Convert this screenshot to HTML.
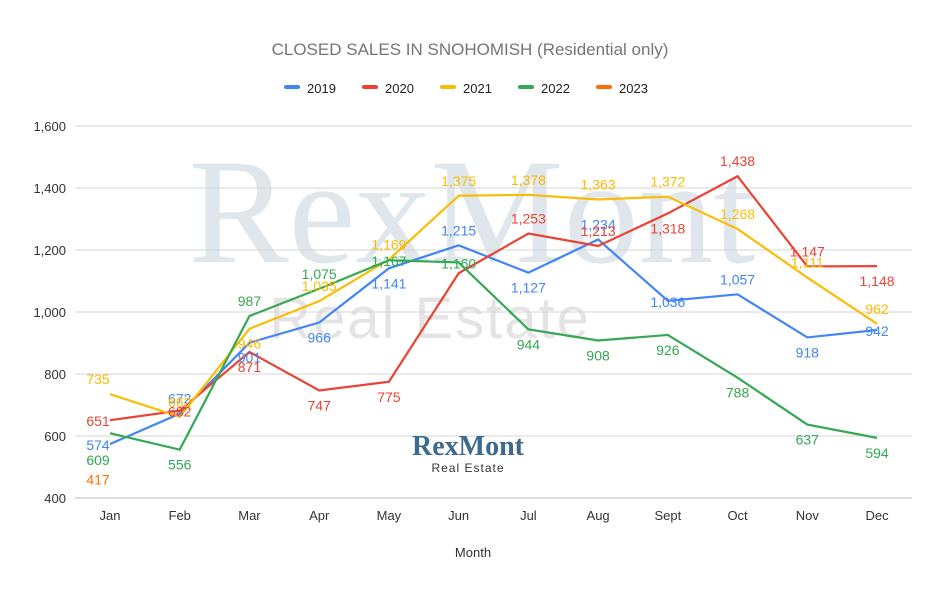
<!DOCTYPE html>
<html><head><meta charset="utf-8"><style>
body{margin:0;background:#fff;font-family:"Liberation Sans",Arial,sans-serif}
svg text{font-family:"Liberation Sans",Arial,sans-serif}
</style></head><body>
<svg id="c" width="940" height="600" xmlns="http://www.w3.org/2000/svg">
<rect width="940" height="600" fill="#fff"/>
<text x="470" y="55" text-anchor="middle" font-size="17" fill="#757575">CLOSED SALES IN SNOHOMISH  (Residential only)</text>
<text x="472" y="262" text-anchor="middle" font-size="150" fill="#dfe6ec" style="font-family:'Liberation Serif',serif">RexMont</text>
<text x="430" y="338" text-anchor="middle" font-size="58" fill="#e4e4e4" letter-spacing="2">Real Estate</text>
<g id="grid"></g><g id="lines"></g><g id="labels"></g>
<text x="468" y="455" text-anchor="middle" font-size="28" font-weight="bold" fill="#3f6a8f" style="font-family:'Liberation Serif',serif">RexMont</text>
<text x="468" y="472" text-anchor="middle" font-size="12" fill="#333" letter-spacing="1">Real Estate</text>
<text x="473" y="557" text-anchor="middle" font-size="13" fill="#333">Month</text>
<g id="legend"></g>
</svg>
<script>
const months=["Jan","Feb","Mar","Apr","May","Jun","Jul","Aug","Sept","Oct","Nov","Dec"];
const yTicks=[400,600,800,1000,1200,1400,1600];
const seriesNames=["2019","2020","2021","2022","2023"];
const s2019=[574,672,901,966,1141,1215,1127,1234,1036,1057,918,942];
const s2020=[651,682,871,747,775,1125,1253,1213,1318,1438,1147,1148];
const s2021=[735,662,946,1035,1169,1375,1378,1363,1372,1268,1111,962];
const s2022=[609,556,987,1075,1167,1160,944,908,926,788,637,594];
const s2023=[417];
const colors=["#4285f4","#ea4335","#fbbc04","#34a853","#ff6d01"];
const pos=[
"cabbbabacabc".split(""),
"ccbbbnaabaab".split(""),
"aabaaaaaaaaa".split(""),
"dbaaccbbbbbb".split(""),
"e".split("")];
const all=[s2019,s2020,s2021,s2022,s2023];
const NS="http://www.w3.org/2000/svg";
const X=i=>110+i*69.73, Y=v=>498-(v-400)*0.31;
function el(t,a,p){const e=document.createElementNS(NS,t);for(const k in a)e.setAttribute(k,a[k]);p.appendChild(e);return e;}
const grid=document.getElementById('grid');
yTicks.forEach(v=>{
 const l=el('line',{x1:75,x2:912,y1:Y(v),y2:Y(v),stroke:v===400?'#bbb':'#d6d6d6','stroke-width':1},grid);
 
 
 const t=el('text',{x:66,y:Y(v)+5,'text-anchor':'end','font-size':13,fill:'#333'},grid);t.textContent=v.toLocaleString('en-US');
 
 
});
months.forEach((m,i)=>{
 const t=el('text',{x:X(i),y:520,'text-anchor':'middle','font-size':13,fill:'#333'},grid);t.textContent=m;
 
 
});
const lines=document.getElementById('lines'),labels=document.getElementById('labels');
const dyMap={a:-10,b:20,c:6,d:32,e:-8};
all.forEach((s,k)=>{
 if(s.length>1){
  const p=el('polyline',{points:s.map((v,i)=>X(i)+','+Y(v)).join(' '),fill:'none',stroke:colors[k],'stroke-width':2.2},lines);
  
  
 }
 s.forEach((v,i)=>{
  const ps=pos[k][i]||'a'; if(ps==='n')return;
  const dx=i===0?-12:0;
  const t=el('text',{x:X(i)+dx,y:Y(v)+dyMap[ps],'text-anchor':'middle','font-size':14,fill:colors[k]},labels);
  t.textContent=v.toLocaleString('en-US');
  
  
 });
});
const lg=document.getElementById('legend');
seriesNames.forEach((n,k)=>{
 const x=284+k*78;
 const r=el('rect',{x:x,y:85,width:16,height:4,rx:2,fill:colors[k]},lg);
 
 
 const t=el('text',{x:x+23,y:93,'font-size':13,fill:'#222'},lg);t.textContent=n;
 
 
});
</script>
</body></html>
